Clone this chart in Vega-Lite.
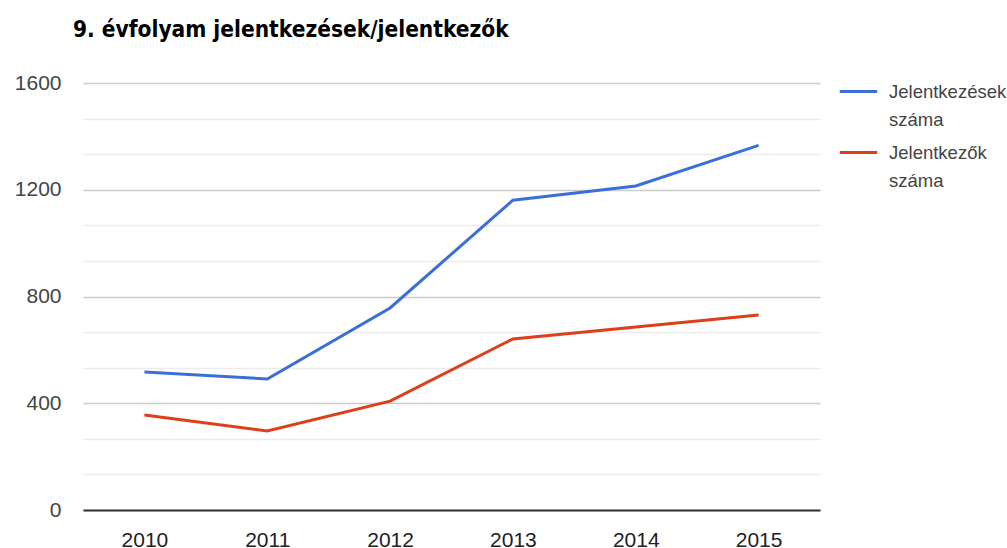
{
  "$schema": "https://vega.github.io/schema/vega-lite/v6.json",
  "width": 737,
  "height": 427,
  "autosize": "none",
  "padding": {"left": 83, "top": 83, "right": 187, "bottom": 38},
  "background": "white",
  "title": {
    "text": "9. évfolyam jelentkezések/jelentkezők",
    "anchor": "start",
    "frame": "group",
    "font": "DejaVu Sans Condensed",
    "fontSize": 22.5,
    "fontWeight": "bold",
    "color": "#000000",
    "dx": -10,
    "offset": 30
  },
  "data": {
    "values": [
      {"year": "2010", "series": "Jelentkezések száma", "value": 517},
      {"year": "2011", "series": "Jelentkezések száma", "value": 491},
      {"year": "2012", "series": "Jelentkezések száma", "value": 757},
      {"year": "2013", "series": "Jelentkezések száma", "value": 1161},
      {"year": "2014", "series": "Jelentkezések száma", "value": 1214},
      {"year": "2015", "series": "Jelentkezések száma", "value": 1366},
      {"year": "2010", "series": "Jelentkezők száma", "value": 356},
      {"year": "2011", "series": "Jelentkezők száma", "value": 296},
      {"year": "2012", "series": "Jelentkezők száma", "value": 408},
      {"year": "2013", "series": "Jelentkezők száma", "value": 641},
      {"year": "2014", "series": "Jelentkezők száma", "value": 686},
      {"year": "2015", "series": "Jelentkezők száma", "value": 731}
    ]
  },
  "config": {
    "view": {"stroke": null},
    "font": "Liberation Sans"
  },
  "mark": {"type": "line", "strokeWidth": 3},
  "encoding": {
    "x": {
      "field": "year",
      "type": "ordinal",
      "scale": {"type": "point", "padding": 0.5},
      "axis": {
        "title": null,
        "labelAngle": 0,
        "labelFont": "Liberation Sans",
        "labelFontSize": 21,
        "labelColor": "#222222",
        "labelPadding": 19,
        "ticks": false,
        "domain": true,
        "domainColor": "#333333",
        "domainWidth": 2,
        "grid": false
      }
    },
    "y": {
      "field": "value",
      "type": "quantitative",
      "scale": {"domain": [0, 1600], "nice": false},
      "axis": {
        "title": null,
        "values": [0, 133.3333, 266.6667, 400, 533.3333, 666.6667, 800, 933.3333, 1066.6667, 1200, 1333.3333, 1466.6667, 1600],
        "labelExpr": "datum.value % 400 === 0 ? datum.label : ''",
        "format": "d",
        "labelFont": "Liberation Sans",
        "labelFontSize": 21,
        "labelColor": "#444444",
        "labelPadding": 22,
        "ticks": false,
        "domain": false,
        "grid": true,
        "gridColor": {"condition": {"test": "datum.value % 400 === 0", "value": "#cccccc"}, "value": "#ebebeb"},
        "gridWidth": 1.5
      }
    },
    "color": {
      "field": "series",
      "type": "nominal",
      "scale": {"domain": ["Jelentkezések száma", "Jelentkezők száma"], "range": ["#3b6fd8", "#dc3f1a"]},
      "legend": {
        "title": null,
        "orient": "none",
        "legendX": 755,
        "legendY": -12,
        "symbolType": "stroke",
        "symbolSize": 1400,
        "symbolStrokeWidth": 3,
        "labelFont": "Liberation Sans",
        "labelFontSize": 18.5,
        "labelColor": "#444444",
        "labelOffset": 10,
        "labelExpr": "split(datum.label, ' ')",
        "labelLimit": 200,
        "rowPadding": 3,
        "encode": {"labels": {"update": {"lineHeight": {"value": 28}}}}
      }
    }
  }
}
